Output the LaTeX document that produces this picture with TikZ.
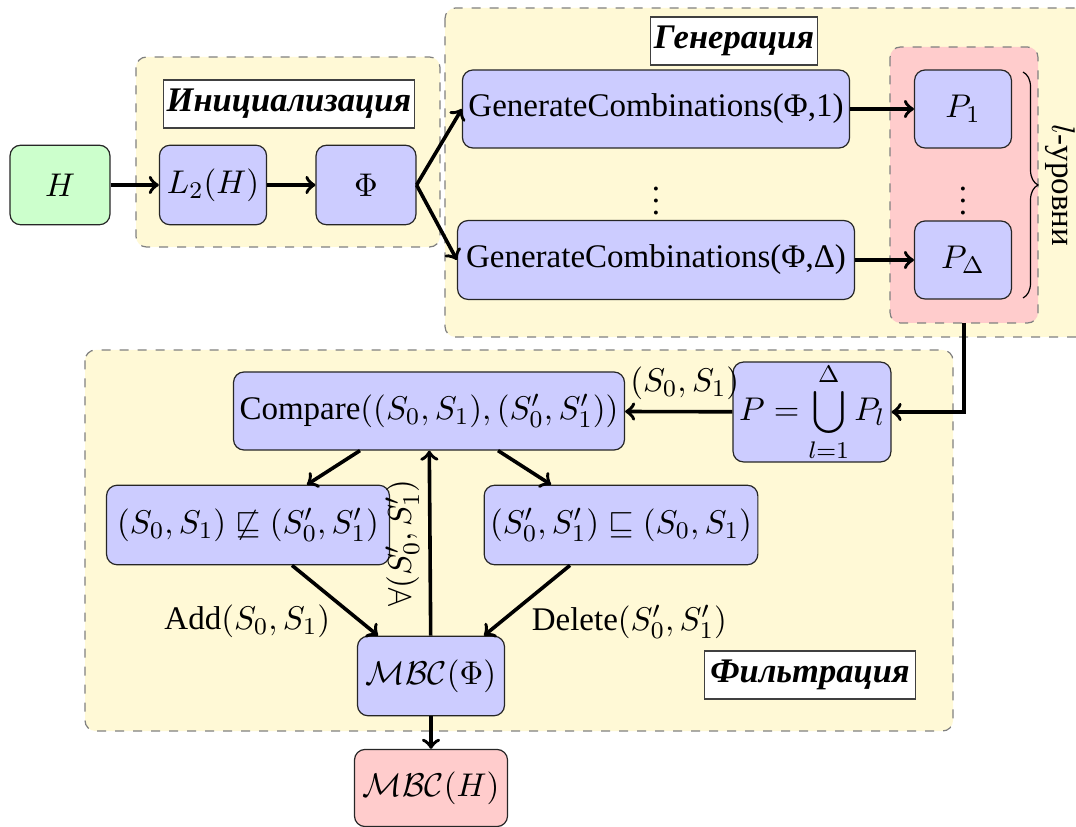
\documentclass[tikz,border=0pt]{standalone}
\usepackage[no-math]{fontspec}
\setmainfont{Liberation Serif}
\usetikzlibrary{decorations.pathreplacing,calc}
\definecolor{bgyellow}{RGB}{255,249,214}
\definecolor{boxblue}{RGB}{204,204,255}
\definecolor{boxgreen}{RGB}{204,255,204}
\definecolor{boxred}{RGB}{255,204,204}
\begin{document}
\begin{tikzpicture}[x=0.33333pt,y=-0.33333pt,
  every node/.style={font=\fontsize{11}{13}\selectfont},
  blk/.style={draw=black!85, fill=boxblue, rounded corners=3.5pt, inner xsep=2pt, inner ysep=0pt, minimum height=26.5pt, align=center},
  grp/.style={draw=gray, dashed, fill=bgyellow, rounded corners=3.5pt},
  ttl/.style={draw=black!75, fill=white, font=\fontsize{11.5}{13}\selectfont\bfseries\itshape, minimum height=16pt, inner sep=1pt},
  arr/.style={->, line width=1.2pt}
]
\useasboundingbox (0,0) rectangle (1076,827);
\clip (0,0) rectangle (1076,827);

% backgrounds
\draw[grp] (136,57) rectangle (440,247);
\draw[grp] (445,8) rectangle (1100,337);
\draw[grp, fill=boxred] (890,47) rectangle (1038,323);
\draw[grp] (85,350) rectangle (953,731);

% titles
\node[ttl, minimum width=82.7pt] (tinit) at (289,104) {Инициализация};
\node[ttl, minimum width=55.7pt] (tgen) at (734,41) {Генерация};
\node[ttl, minimum width=70.3pt] (tfilt) at (810,675) {Фильтрация};

% init
\node[blk, fill=boxgreen, minimum width=33.3pt] (H) at (60,185) {$H$};
\node[blk, minimum width=35.7pt] (L2) at (213,185) {$L_2(H)$};
\node[blk, minimum width=33.3pt] (Phi) at (366,185) {$\Phi$};

% generation
\node[blk, minimum width=129pt, minimum height=26pt] (GC1) at (656,109) {GenerateCombinations(Φ,1)};
\node[blk, minimum width=132.3pt, minimum height=26.3pt] (GCD) at (656,260) {GenerateCombinations(Φ,Δ)};
\node (vd1) at (656,192) {$\vdots$};
\node[blk, minimum width=32.3pt, minimum height=26pt] (P1) at (963,109) {$P_1$};
\node[blk, minimum width=32.3pt, minimum height=26pt] (PD) at (963,260) {$P_\Delta$};
\node (vd2) at (963,192) {$\vdots$};
\draw[decorate, decoration={brace, amplitude=5pt}] (1023,72) -- (1023,298);
\node[rotate=-90] (lev) at (1060,185) {$l$-уровни};
\coordinate (redb) at (964,323);

% filtration
\node[blk, minimum width=127.3pt, minimum height=26pt] (CMP) at (429,411) {Compare$\bigl((S_0,S_1),(S_0',S_1')\bigr)$};
\node[blk, minimum width=51.7pt, minimum height=33.3pt] (PU) at (812,412) {$\displaystyle P=\bigcup_{l=1}^{\Delta}P_l$};
\node[blk, minimum width=94.3pt] (L) at (248,525) {$(S_0,S_1)\not\sqsubseteq(S_0',S_1')$};
\node[blk, minimum width=89.3pt] (R) at (621,525) {$(S_0',S_1')\sqsubseteq(S_0,S_1)$};
\node[blk, minimum width=49pt] (MP) at (431,676) {$\mathcal{MBC}(\Phi)$};
\node[blk, fill=boxred, minimum width=51pt, minimum height=25.7pt] (MH) at (431,788) {$\mathcal{MBC}(H)$};

% connectors
\draw[arr] (H) -- (L2);
\draw[arr] (L2) -- (Phi);
\draw[arr] (Phi.east) -- (GC1.west);
\draw[arr] (Phi.east) -- (GCD.west);
\draw[arr] (GC1) -- (P1);
\draw[arr] (GCD) -- (PD);
\draw[arr] (redb) |- (PU.east);
\draw[arr] (PU) -- node[above, xshift=2pt] {$(S_0,S_1)$} (CMP);
\draw[arr] ($(CMP.south)+(-69,0)$) -- ($(L.north)+(59,0)$);
\draw[arr] ($(CMP.south)+(69,0)$) -- ($(R.north)+(-70,0)$);
\draw[arr] ($(L.south)+(44,0)$) -- node[below left, inner sep=1pt] {Add$(S_0,S_1)$} ($(MP.north)+(-53,0)$);
\draw[arr] ($(R.south)+(-51,0)$) -- node[below right, inner sep=1pt] {Delete$(S_0',S_1')$} ($(MP.north)+(53,0)$);
\draw[arr] (MP) -- node[midway, rotate=90, anchor=south, inner sep=3pt] {$\forall(S_0',S_1')$} (CMP);
\draw[arr] (MP) -- (MH);
\end{tikzpicture}
\end{document}
